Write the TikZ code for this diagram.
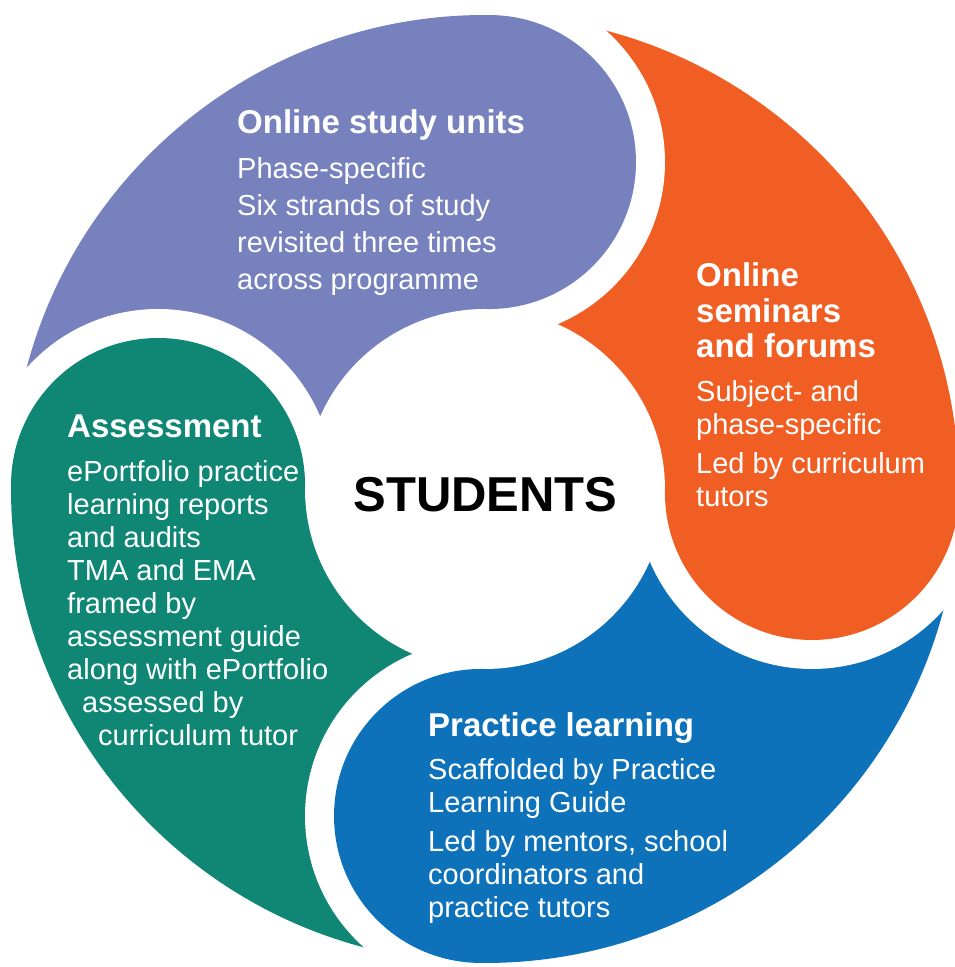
\documentclass[tikz,border=0pt]{standalone}
\usepackage{fontspec}
\setmainfont{Liberation Sans}
\definecolor{cpurple}{RGB}{118,129,189}
\definecolor{corange}{RGB}{240,94,36}
\definecolor{cblue}{RGB}{13,114,185}
\definecolor{cteal}{RGB}{16,135,117}
\begin{document}
\begin{tikzpicture}[x=1pt,y=1pt,
  head/.style={anchor=base west, inner sep=0, text=white, font=\fontsize{33}{35.5}\selectfont\bfseries},
  body/.style={anchor=base west, inner sep=0, text=white, font=\fontsize{29}{33}\selectfont},
  bodywide/.style={body, font=\fontsize{29}{37}\selectfont}]
\useasboundingbox (0,0) rectangle (954,967);
\fill[white] (0,0) rectangle (954,967);
\begin{scope}[shift={(485,478)}, rotate=-0.7]
  % tails (quarter wedges)
  \foreach \a/\c in {90/cpurple, 0/corange, 270/cblue, 180/cteal} {
    \fill[\c] (0,0) -- (\a:474) arc[start angle=\a, end angle=\a+90, radius=474] -- cycle;
  }
  % white gaps around each bulge, cut only into the preceding tail
  \foreach \a in {90, 0, 270, 180} {
    \begin{scope}
      \clip (0,0) -- (\a:600) arc[start angle=\a, end angle=\a-90, radius=600] -- cycle;
      \fill[white] (\a:327) circle[radius=176];
    \end{scope}
  }
  % centre
  \fill[white] (0,0) circle[radius=180];
  % bulges
  \foreach \a/\c in {90/cpurple, 0/corange, 270/cblue, 180/cteal} {
    \fill[\c] (\a:327) circle[radius=147];
  }
\end{scope}

\node[anchor=base, inner sep=0, font=\fontsize{49}{49}\selectfont\bfseries] (centre) at (485.5,455) {STUDENTS};

\node[head] (puh) at (237,833) {Online study units};
\node[bodywide] (pub) at (237,788) {\begin{tabular}[t]{@{}l@{}}Phase-specific\\ Six strands of study\\ revisited three times\\ across programme\end{tabular}};

\node[head] (orh) at (696,680) {\begin{tabular}[t]{@{}l@{}}Online\\ seminars\\ and forums\end{tabular}};
\node[body] (orb) at (696,565) {\begin{tabular}[t]{@{}l@{}}Subject- and\\ phase-specific\\[6pt] Led by curriculum\\ tutors\end{tabular}};

\node[head] (teh) at (67,529) {Assessment};
\node[body] (teb) at (67,485) {\begin{tabular}[t]{@{}l@{}}ePortfolio practice\\ learning reports\\ and audits\\ TMA and EMA\\ framed by\\ assessment guide\\ along with ePortfolio\\ \hspace*{15pt}assessed by\\ \hspace*{31pt}curriculum tutor\end{tabular}};

\node[head] (blh) at (428,230) {Practice learning};
\node[body] (blb) at (428,187) {\begin{tabular}[t]{@{}l@{}}Scaffolded by Practice\\ Learning Guide\\[6pt] Led by mentors, school\\ coordinators and\\ practice tutors\end{tabular}};
\end{tikzpicture}
\end{document}
